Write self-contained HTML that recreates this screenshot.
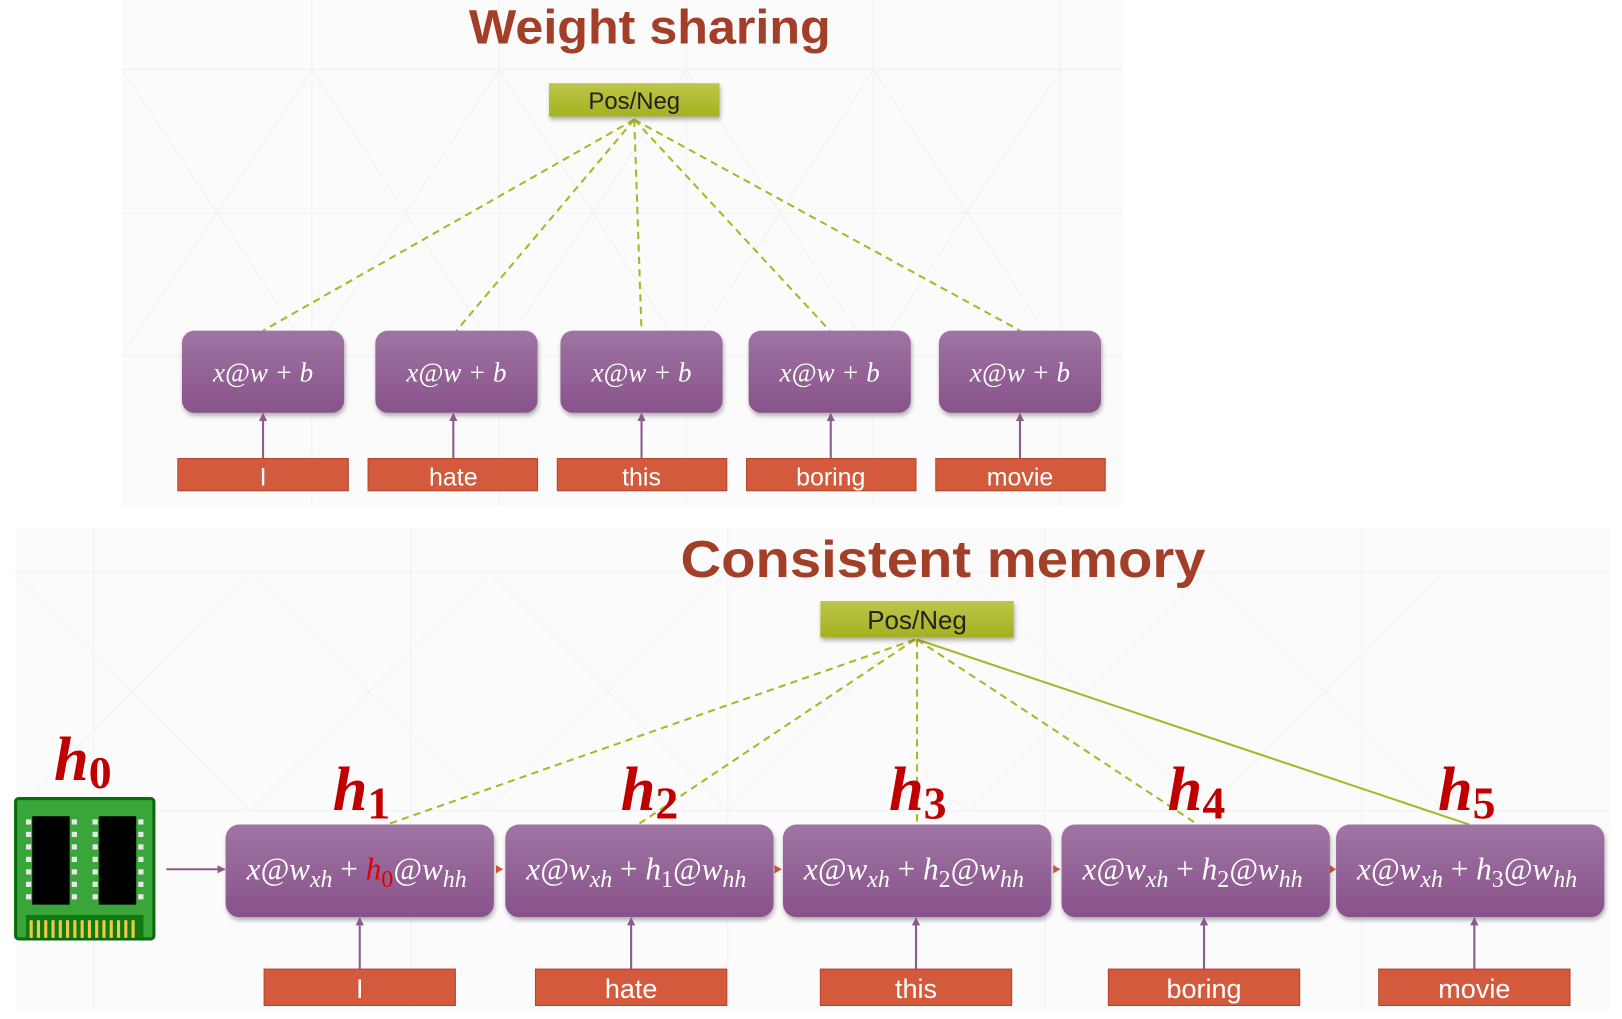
<!DOCTYPE html>
<html><head><meta charset="utf-8"><style>html,body{margin:0;padding:0;background:#fff}svg{display:block}</style></head>
<body>
<svg width="1622" height="1019" viewBox="0 0 1560 980" preserveAspectRatio="none" xmlns="http://www.w3.org/2000/svg">
<defs>
<linearGradient id="pg" x1="0" y1="0" x2="0" y2="1"><stop offset="0" stop-color="#9f74a3"/><stop offset="1" stop-color="#88528a"/></linearGradient>
<linearGradient id="og" x1="0" y1="0" x2="0" y2="1"><stop offset="0" stop-color="#bcc64a"/><stop offset="1" stop-color="#a4b21f"/></linearGradient>
<filter id="sh" x="-10%" y="-10%" width="120%" height="130%"><feDropShadow dx="1" dy="3" stdDeviation="2" flood-color="#000" flood-opacity="0.3"/></filter>
<marker id="ap" markerWidth="8" markerHeight="8" refX="7" refY="4" orient="auto" markerUnits="userSpaceOnUse"><path d="M0,0 L8,4 L0,8z" fill="#8a5c8e"/></marker>
</defs>
<rect x="117" y="0" width="963" height="487" fill="#fbfbfb"/>
<g stroke="#f1f1f1" stroke-width="1" fill="none">
<path d="M117,67H1080M117,205H1080M117,342H1080M300,0V487M480,0V487M660,0V487M840,0V487M1020,0V487"/>
<path d="M117,67L300,342L480,67L660,342L840,67L1020,342M117,342L300,67L480,342L660,67L840,342L1020,67"/>
</g>
<rect x="15" y="508" width="1533" height="464" fill="#fbfbfb"/>
<g stroke="#f1f1f1" stroke-width="1" fill="none">
<path d="M15,550H1548M15,780H1548M90,508V972M395,508V972M700,508V972M1005,508V972M1310,508V972"/>
<path d="M15,550L240,780L470,550L700,780L930,550L1160,780L1390,550M15,780L240,550L470,780L700,550L930,780L1160,550L1390,780"/>
</g>
<text x="625" y="42" text-anchor="middle" font-family="Liberation Sans, sans-serif" font-weight="bold" font-size="46" fill="#a33e28" textLength="348" lengthAdjust="spacingAndGlyphs">Weight sharing</text>
<g stroke="#a9b82a" stroke-width="2" stroke-dasharray="7,5" fill="none">
<line x1="610" y1="115" x2="253" y2="318"/><line x1="610" y1="115" x2="439" y2="318"/><line x1="610" y1="115" x2="617" y2="318"/><line x1="610" y1="115" x2="798" y2="318"/><line x1="610" y1="115" x2="981" y2="318"/>
</g>
<rect x="528" y="80" width="164" height="32" fill="url(#og)" filter="url(#sh)"/>
<text x="610" y="105" text-anchor="middle" font-family="Liberation Sans, sans-serif" font-size="23" fill="#222">Pos/Neg</text>
<g font-family="Liberation Serif, serif" font-style="italic" font-size="26" fill="#fff" text-anchor="middle">
<rect x="175" y="318" width="156" height="79" rx="12" fill="url(#pg)" filter="url(#sh)"/><text x="253" y="367">x@w + b</text>
<rect x="361" y="318" width="156" height="79" rx="12" fill="url(#pg)" filter="url(#sh)"/><text x="439" y="367">x@w + b</text>
<rect x="539" y="318" width="156" height="79" rx="12" fill="url(#pg)" filter="url(#sh)"/><text x="617" y="367">x@w + b</text>
<rect x="720" y="318" width="156" height="79" rx="12" fill="url(#pg)" filter="url(#sh)"/><text x="798" y="367">x@w + b</text>
<rect x="903" y="318" width="156" height="79" rx="12" fill="url(#pg)" filter="url(#sh)"/><text x="981" y="367">x@w + b</text>
</g>
<g stroke="#8a5c8e" stroke-width="2" marker-end="url(#ap)">
<line x1="253" y1="441" x2="253" y2="398"/><line x1="436" y1="441" x2="436" y2="398"/><line x1="617" y1="441" x2="617" y2="398"/><line x1="799" y1="441" x2="799" y2="398"/><line x1="981" y1="441" x2="981" y2="398"/>
</g>
<g fill="#d35a3c" stroke="#b3452c" stroke-width="1">
<rect x="171" y="441" width="164" height="31"/><rect x="354" y="441" width="163" height="31"/><rect x="536" y="441" width="163" height="31"/><rect x="718" y="441" width="163" height="31"/><rect x="900" y="441" width="163" height="31"/>
</g>
<g font-family="Liberation Sans, sans-serif" font-size="24" fill="#fff" text-anchor="middle">
<text x="253" y="467">I</text><text x="436" y="467">hate</text><text x="617" y="467">this</text><text x="799" y="467">boring</text><text x="981" y="467">movie</text>
</g>
<text x="907" y="555" text-anchor="middle" font-family="Liberation Sans, sans-serif" font-weight="bold" font-size="50" fill="#a33e28" textLength="505" lengthAdjust="spacingAndGlyphs">Consistent memory</text>
<g stroke="#a9b82a" stroke-width="2" fill="none">
<g stroke-dasharray="7,5"><line x1="880" y1="615" x2="375" y2="792"/><line x1="880" y1="615" x2="615" y2="792"/><line x1="882" y1="615" x2="882" y2="793"/><line x1="882" y1="615" x2="1152" y2="793"/></g>
<line x1="882" y1="615" x2="1413" y2="793"/>
</g>
<rect x="789" y="578" width="186" height="35" fill="url(#og)" filter="url(#sh)"/>
<text x="882" y="605" text-anchor="middle" font-family="Liberation Sans, sans-serif" font-size="25" fill="#222">Pos/Neg</text>
<rect x="15" y="768" width="133" height="135" rx="3" fill="#3aa53a" stroke="#0c6b0c" stroke-width="3"/>
<rect x="31" y="785" width="36" height="85" fill="#000"/><rect x="95" y="785" width="36" height="85" fill="#000"/>
<g fill="#e8e8e8">
<rect x="25" y="788" width="5" height="5"/><rect x="25" y="800" width="5" height="5"/><rect x="25" y="812" width="5" height="5"/><rect x="25" y="824" width="5" height="5"/><rect x="25" y="836" width="5" height="5"/><rect x="25" y="848" width="5" height="5"/><rect x="25" y="860" width="5" height="5"/>
<rect x="69" y="788" width="5" height="5"/><rect x="69" y="800" width="5" height="5"/><rect x="69" y="812" width="5" height="5"/><rect x="69" y="824" width="5" height="5"/><rect x="69" y="836" width="5" height="5"/><rect x="69" y="848" width="5" height="5"/><rect x="69" y="860" width="5" height="5"/>
<rect x="89" y="788" width="5" height="5"/><rect x="89" y="800" width="5" height="5"/><rect x="89" y="812" width="5" height="5"/><rect x="89" y="824" width="5" height="5"/><rect x="89" y="836" width="5" height="5"/><rect x="89" y="848" width="5" height="5"/><rect x="89" y="860" width="5" height="5"/>
<rect x="133" y="788" width="5" height="5"/><rect x="133" y="800" width="5" height="5"/><rect x="133" y="812" width="5" height="5"/><rect x="133" y="824" width="5" height="5"/><rect x="133" y="836" width="5" height="5"/><rect x="133" y="848" width="5" height="5"/><rect x="133" y="860" width="5" height="5"/>
</g>
<rect x="25" y="880" width="113" height="22" fill="#127a12"/>
<path d="M30,885V902M37,885V902M44,885V902M51,885V902M58,885V902M65,885V902M72,885V902M79,885V902M86,885V902M93,885V902M100,885V902M107,885V902M114,885V902M121,885V902M128,885V902" stroke="#f0c84a" stroke-width="3"/>
<g font-family="Liberation Serif, serif" font-style="italic" font-weight="bold" fill="#c00000">
<text x="52" y="750" font-size="60">h<tspan font-size="44" dy="8" font-style="normal">0</tspan></text>
<text x="320" y="779" font-size="60">h<tspan font-size="44" dy="8" font-style="normal">1</tspan></text>
<text x="597" y="779" font-size="60">h<tspan font-size="44" dy="8" font-style="normal">2</tspan></text>
<text x="855" y="779" font-size="60">h<tspan font-size="44" dy="8" font-style="normal">3</tspan></text>
<text x="1123" y="779" font-size="60">h<tspan font-size="44" dy="8" font-style="normal">4</tspan></text>
<text x="1383" y="779" font-size="60">h<tspan font-size="44" dy="8" font-style="normal">5</tspan></text>
</g>
<line x1="160" y1="836" x2="216" y2="836" stroke="#8a5c8e" stroke-width="2" marker-end="url(#ap)"/>
<g fill="#d35a3c"><path d="M477,832l7,4l-7,4z"/><path d="M745,832l7,4l-7,4z"/><path d="M1013,832l7,4l-7,4z"/><path d="M1279,832l6,4l-6,4z"/></g>
<g fill="url(#pg)" filter="url(#sh)">
<rect x="217" y="793" width="258" height="89" rx="13"/><rect x="486" y="793" width="258" height="89" rx="13"/><rect x="753" y="793" width="258" height="89" rx="13"/><rect x="1021" y="793" width="258" height="89" rx="13"/><rect x="1285" y="793" width="258" height="89" rx="13"/>
</g>
<g font-family="Liberation Serif, serif" font-style="italic" font-size="30" fill="#fff" text-anchor="middle">
<text x="343" y="846">x@w<tspan font-size="23" dy="7">xh</tspan><tspan dy="-7" font-style="normal"> + </tspan><tspan fill="#e00000">h<tspan font-size="23" dy="7" font-style="normal">0</tspan></tspan><tspan dy="-7">@w</tspan><tspan font-size="23" dy="7">hh</tspan></text>
<text x="612" y="846">x@w<tspan font-size="23" dy="7">xh</tspan><tspan dy="-7" font-style="normal"> + </tspan>h<tspan font-size="23" dy="7" font-style="normal">1</tspan><tspan dy="-7">@w</tspan><tspan font-size="23" dy="7">hh</tspan></text>
<text x="879" y="846">x@w<tspan font-size="23" dy="7">xh</tspan><tspan dy="-7" font-style="normal"> + </tspan>h<tspan font-size="23" dy="7" font-style="normal">2</tspan><tspan dy="-7">@w</tspan><tspan font-size="23" dy="7">hh</tspan></text>
<text x="1147" y="846">x@w<tspan font-size="23" dy="7">xh</tspan><tspan dy="-7" font-style="normal"> + </tspan>h<tspan font-size="23" dy="7" font-style="normal">2</tspan><tspan dy="-7">@w</tspan><tspan font-size="23" dy="7">hh</tspan></text>
<text x="1411" y="846">x@w<tspan font-size="23" dy="7">xh</tspan><tspan dy="-7" font-style="normal"> + </tspan>h<tspan font-size="23" dy="7" font-style="normal">3</tspan><tspan dy="-7">@w</tspan><tspan font-size="23" dy="7">hh</tspan></text>
</g>
<g stroke="#8a5c8e" stroke-width="2" marker-end="url(#ap)">
<line x1="346" y1="932" x2="346" y2="883"/><line x1="607" y1="932" x2="607" y2="883"/><line x1="881" y1="932" x2="881" y2="883"/><line x1="1158" y1="932" x2="1158" y2="883"/><line x1="1418" y1="932" x2="1418" y2="883"/>
</g>
<g fill="#d35a3c" stroke="#b3452c" stroke-width="1">
<rect x="254" y="932" width="184" height="35"/><rect x="515" y="932" width="184" height="35"/><rect x="789" y="932" width="184" height="35"/><rect x="1066" y="932" width="184" height="35"/><rect x="1326" y="932" width="184" height="35"/>
</g>
<g font-family="Liberation Sans, sans-serif" font-size="26" fill="#fff" text-anchor="middle">
<text x="346" y="960">I</text><text x="607" y="960">hate</text><text x="881" y="960">this</text><text x="1158" y="960">boring</text><text x="1418" y="960">movie</text>
</g>
</svg>
</body></html>
